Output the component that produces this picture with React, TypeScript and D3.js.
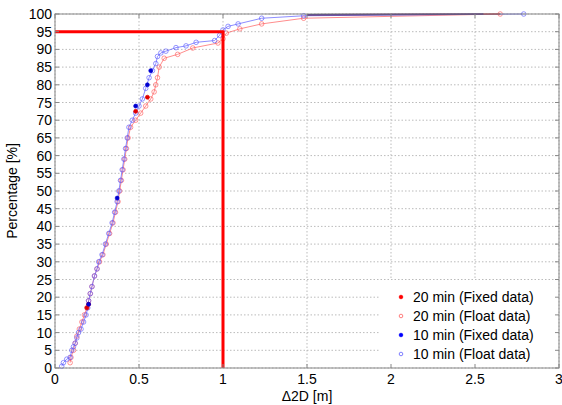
import React from "react";
import * as d3 from "d3";

const xTicks = [0, 0.5, 1, 1.5, 2, 2.5, 3];
const yTicks = d3.range(0, 101, 5);
const blueFloatX = [0.04,0.05,0.07,0.09,0.1,0.11,0.12,0.13,0.14,0.155,0.17,0.185,0.195,0.2,0.21,0.22,0.235,0.25,0.26,0.28,0.3,0.32,0.34,0.355,0.37,0.38,0.39,0.4,0.41,0.42,0.43,0.44,0.46,0.48,0.5,0.52,0.54,0.56,0.58,0.6,0.61,0.63,0.66,0.72,0.78,0.84,0.95,0.98,1.0,1.03,1.09,1.23,1.48,2.79];
const blueFloatY = [0.5,1.5,2.5,3,5,6,7,8.5,10,11,13,15,17,19,21,23,26,28,30,32,35,38,41,44,47,50,53,56,59,62,65,68,70,72,74,76,79,82,84,86,88,89,89.5,90.5,91,92,92.5,94,95.5,96.5,97.2,98.8,99.5,100];
const redFloatX = [0.09,0.095,0.11,0.12,0.13,0.145,0.16,0.175,0.19,0.2,0.21,0.22,0.235,0.25,0.265,0.285,0.305,0.325,0.345,0.36,0.375,0.385,0.395,0.405,0.415,0.425,0.435,0.45,0.48,0.51,0.54,0.57,0.59,0.6,0.61,0.62,0.65,0.73,0.82,0.97,1.0,1.02,1.1,1.23,1.48,2.65];
const redFloatY = [1.5,3,5,7,9,11,13,15,17,19,21,23,26,28,30,32,35,38,41,44,47,50,53,56,59,62,65,68,70,72,74,76,78,80,82,85,87.5,88.6,90.4,91.8,93,94.6,95.8,97.2,98.8,100];
const blueFixedX = [0.2,0.37,0.48,0.55,0.57,1.5,2.55];
const blueFixedY = [18,48,74,80,84,99.8,100];
const redFixedX = [0.19,0.2,0.48,0.55,1.5,2.65];
const redFixedY = [17,18,72.5,76.5,99.8,100];
const legendLabels = ["20 min (Fixed data)", "20 min (Float data)", "10 min (Fixed data)", "10 min (Float data)"];

export default function App() {
  const W = 562, H = 405;
  const L = 55, R = 559, T = 14, B = 368;
  const x = d3.scaleLinear().domain([0, 3]).range([L, R]);
  const y = d3.scaleLinear().domain([0, 100]).range([B, T]);
  const line = d3.line<[number, number]>().x(d => x(d[0])).y(d => y(d[1]));
  const zip = (a: number[], b: number[]) => a.map((v, i) => [v, b[i]] as [number, number]);
  const series = [
    { pts: zip(redFloatX, redFloatY), color: "#ff5a5a", fill: false, lc: "#ff7070" },
    { pts: zip(blueFloatX, blueFloatY), color: "#5a5aff", fill: false, lc: "#7070ff" },
    { pts: zip(redFixedX, redFixedY), color: "#e00000", fill: true, lc: "#b02020" },
    { pts: zip(blueFixedX, blueFixedY), color: "#0000d0", fill: true, lc: "#202090" },
  ];
  const font = "Arial, 'Liberation Sans', sans-serif";
  const legend = [
    { c: "#ff0000", f: true },
    { c: "#ff6060", f: false },
    { c: "#0000ff", f: true },
    { c: "#6060ff", f: false },
  ];
  return (
    <svg width={W} height={H} style={{ position: "absolute", left: 0, top: 0, background: "#fff" }} fontFamily={font}>
      <rect x={L} y={T} width={R - L} height={B - T} fill="#fff" />
      {xTicks.map(t => <line key={"gx" + t} x1={x(t)} x2={x(t)} y1={T} y2={B} stroke="#bbb" strokeDasharray="1.5,2" />)}
      {yTicks.map(t => <line key={"gy" + t} x1={L} x2={R} y1={y(t)} y2={y(t)} stroke="#bbb" strokeDasharray="1.5,2" />)}
      {series.map((s, i) => (
        <g key={i}>
          <path d={line(s.fill ? s.pts.filter(p => p[0] >= 1.4) : s.pts) || ""} fill="none" stroke={s.lc} strokeWidth={s.fill ? 1.5 : 1} strokeOpacity={0.8} />
          {s.pts.filter(p => !s.fill || p[0] < 1.4).map((p, j) => (
            <circle key={j} cx={x(p[0])} cy={y(p[1])} r={s.fill ? 2 : 2.3}
              fill={s.fill ? s.color : "none"} stroke={s.color} strokeWidth={0.8} strokeOpacity={0.8} />
          ))}
        </g>
      ))}
      <path d={`M${x(0)},${y(95)}H${x(1)}V${y(0)}`} fill="none" stroke="#ff0000" strokeWidth={3} />
      <rect x={380} y={280} width={R - 381} height={B - 281} fill="#fff" />
      {legendLabels.map((lab, i) => (
        <g key={lab} transform={`translate(0,${297 + i * 19})`}>
          <circle cx={401} cy={0} r={1.8} fill={legend[i].f ? legend[i].c : "none"} stroke={legend[i].c} strokeWidth={0.8} />
          <text x={413} y={5} fontSize={14} fill="#000">{lab}</text>
        </g>
      ))}
      <rect x={L} y={T} width={R - L} height={B - T} fill="none" stroke="#888" strokeWidth={1} />
      {xTicks.map(t => (
        <g key={"tx" + t}>
          <line x1={x(t)} x2={x(t)} y1={B} y2={B - 4} stroke="#888" />
          <line x1={x(t)} x2={x(t)} y1={T} y2={T + 4} stroke="#888" />
          <text x={x(t)} y={B + 16} fontSize={14} textAnchor="middle">{t}</text>
        </g>
      ))}
      {yTicks.map(t => (
        <g key={"ty" + t}>
          <line x1={L} x2={L + 4} y1={y(t)} y2={y(t)} stroke="#888" />
          <line x1={R} x2={R - 4} y1={y(t)} y2={y(t)} stroke="#888" />
          <text x={L - 3} y={y(t) + 5} fontSize={14} textAnchor="end">{t}</text>
        </g>
      ))}
      <text x={(L + R) / 2} y={401} fontSize={14} textAnchor="middle">Δ2D [m]</text>
      <text transform={`translate(17,${(T + B) / 2}) rotate(-90)`} fontSize={14} textAnchor="middle">Percentage [%]</text>
    </svg>
  );
}
